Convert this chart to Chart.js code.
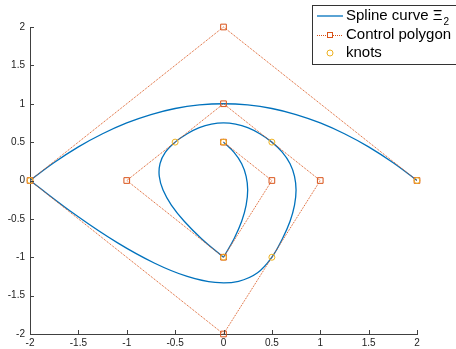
<!DOCTYPE html>
<html>
<head>
<meta charset="utf-8">
<script src="https://cdn.jsdelivr.net/npm/chart.js@4"></script>
<style>
  html, body { margin: 0; padding: 0; background: #fff; }
  #wrap { position: relative; width: 456px; height: 349px; }
</style>
</head>
<body>
<div id="wrap"><canvas id="c"></canvas></div>
<script>
// control polygon
const polyX = [0, 0.5, 0, -1, 0, 1, 0, -2, 0, 2];
const polyY = [0.5, 0, -1, 0, 1, 0, -2, 0, 2, 0];

// knots
const knotX = [0, 0, -0.5, 0.5, 0.5, -2, 2];
const knotY = [0.5, -1, 0.5, 0.5, -1, 0, 0];

const curveAX = [0, 0.109, 0.188, 0.234, 0.25, 0.234, 0.188, 0.109, 0];
const curveAY = [0.5, 0.367, 0.219, 0.055, -0.125, -0.32, -0.531, -0.758, -1];

const curveBX = [0, -0.227, -0.406, -0.539, -0.625, -0.664, -0.656, -0.602, -0.5,
  -0.375, -0.25, -0.125, 0, 0.125, 0.25, 0.375, 0.5,
  0.609, 0.688, 0.734, 0.75, 0.734, 0.688, 0.609, 0.5,
  0.352, 0.156, -0.086, -0.375, -0.711, -1.094, -1.523, -2];
const curveBY = [-1, -0.758, -0.531, -0.32, -0.125, 0.055, 0.219, 0.367, 0.5,
  0.609, 0.688, 0.734, 0.75, 0.734, 0.688, 0.609, 0.5,
  0.367, 0.219, 0.055, -0.125, -0.32, -0.531, -0.758, -1,
  -1.203, -1.313, -1.328, -1.25, -1.078, -0.813, -0.453, 0];

const curveCX = [-2, -1.75, -1.5, -1.25, -1, -0.75, -0.5, -0.25, 0,
  0.25, 0.5, 0.75, 1, 1.25, 1.5, 1.75, 2];
const curveCY = [0, 0.234, 0.438, 0.609, 0.75, 0.859, 0.938, 0.984, 1,
  0.984, 0.938, 0.859, 0.75, 0.609, 0.438, 0.234, 0];

const legendLabels = ['Spline curve \u039E', 'Control polygon', 'knots'];

const blue = '#0072BD';
const orange = '#D95319';
const yellow = '#EDB120';
const axisColor = '#404040';

const pts = (xs, ys) => xs.map((x, i) => ({ x: x, y: ys[i] }));

function curveSet(xs, ys) {
    return {
        data: pts(xs, ys),
        showLine: true,
        borderColor: blue,
        borderWidth: 1.3,
        pointRadius: 0,
        tension: 0.4,
        fill: false,
        order: 3
    };
}

// inward ticks like the original axes
const innerTicks = {
    id: 'innerTicks',
    afterDatasetsDraw(chart) {
        const { ctx, chartArea, scales } = chart;
        ctx.save();
        ctx.strokeStyle = axisColor;
        ctx.lineWidth = 1;
        ctx.beginPath();
        scales.x.ticks.forEach(t => {
            const px = Math.round(scales.x.getPixelForValue(t.value)) + 0.5;
            ctx.moveTo(px, chartArea.bottom);
            ctx.lineTo(px, chartArea.bottom - 4);
        });
        scales.y.ticks.forEach(t => {
            const py = Math.round(scales.y.getPixelForValue(t.value)) + 0.5;
            ctx.moveTo(chartArea.left, py);
            ctx.lineTo(chartArea.left + 4, py);
        });
        ctx.stroke();
        ctx.restore();
    }
};

// boxed legend in the top right corner
const boxLegend = {
    id: 'boxLegend',
    afterDraw(chart) {
        const ctx = chart.ctx;
        const left = 312.5, top = 5.5, w = 150, h = 59;
        ctx.save();
        ctx.fillStyle = '#fff';
        ctx.fillRect(left, top, w, h);
        ctx.strokeStyle = '#333';
        ctx.lineWidth = 1;
        ctx.strokeRect(left, top, w, h);

        const rows = [16, 35, 53];
        const x0 = 317, x1 = 343, xt = 346;
        // curve sample
        ctx.strokeStyle = blue;
        ctx.lineWidth = 1.3;
        ctx.beginPath();
        ctx.moveTo(x0, rows[0]);
        ctx.lineTo(x1, rows[0]);
        ctx.stroke();
        // polygon sample
        ctx.strokeStyle = orange;
        ctx.lineWidth = 1;
        ctx.setLineDash([1, 1]);
        ctx.beginPath();
        ctx.moveTo(x0, rows[1] + 0.5);
        ctx.lineTo(x1, rows[1] + 0.5);
        ctx.stroke();
        ctx.setLineDash([]);
        ctx.fillStyle = '#fff';
        ctx.fillRect(327, rows[1] - 2.5, 6, 6);
        ctx.strokeRect(327.5, rows[1] - 2.5, 5, 5);
        // knot sample
        ctx.strokeStyle = yellow;
        ctx.beginPath();
        ctx.arc(330, rows[2], 3, 0, Math.PI * 2);
        ctx.stroke();

        ctx.fillStyle = '#000';
        ctx.font = '15px "Liberation Sans", Arial, sans-serif';
        ctx.textBaseline = 'middle';
        ctx.textAlign = 'left';
        legendLabels.forEach((s, i) => ctx.fillText(s, xt, rows[i]));
        const wXi = ctx.measureText(legendLabels[0]).width;
        ctx.font = '10px "Liberation Sans", Arial, sans-serif';
        ctx.fillText('2', xt + wXi + 1, rows[0] + 6);
        ctx.restore();
    }
};

const tickFont = { family: '"Liberation Sans", Arial, sans-serif', size: 10 };
const tickLabel = v => String(v);

new Chart(document.getElementById('c'), {
    type: 'scatter',
    data: {
        datasets: [
            curveSet(curveAX, curveAY),
            curveSet(curveBX, curveBY),
            curveSet(curveCX, curveCY),
            {
                data: pts(polyX, polyY),
                showLine: true,
                borderColor: orange,
                borderWidth: 1,
                borderDash: [1, 1],
                pointStyle: 'rect',
                pointRadius: 4,
                pointBorderWidth: 1,
                pointBorderColor: orange,
                pointBackgroundColor: 'rgba(0,0,0,0)',
                tension: 0,
                clip: false,
                order: 2
            },
            {
                data: pts(knotX, knotY),
                showLine: false,
                pointStyle: 'circle',
                pointRadius: 3,
                pointBorderWidth: 1,
                pointBorderColor: yellow,
                pointBackgroundColor: 'rgba(0,0,0,0)',
                clip: false,
                order: 1
            }
        ]
    },
    options: {
        responsive: true,
        maintainAspectRatio: false,
        animation: false,
        layout: { padding: { left: 0, top: 27, right: 39, bottom: 0 } },
        plugins: {
            legend: { display: false },
            tooltip: { enabled: false }
        },
        scales: {
            x: {
                type: 'linear',
                min: -2,
                max: 2,
                ticks: { stepSize: 0.5, color: '#222', font: tickFont, padding: 3, maxRotation: 0, callback: tickLabel },
                grid: { display: false, drawTicks: false },
                border: { display: true, color: axisColor, width: 1 },
                afterFit(scale) { scale.height = 15; }
            },
            y: {
                type: 'linear',
                min: -2,
                max: 2,
                ticks: { stepSize: 0.5, color: '#222', font: tickFont, padding: 5, callback: tickLabel },
                grid: { display: false, drawTicks: false },
                border: { display: true, color: axisColor, width: 1 },
                afterFit(scale) { scale.width = 30; }
            }
        }
    },
    plugins: [innerTicks, boxLegend]
});
</script>
</body>
</html>
